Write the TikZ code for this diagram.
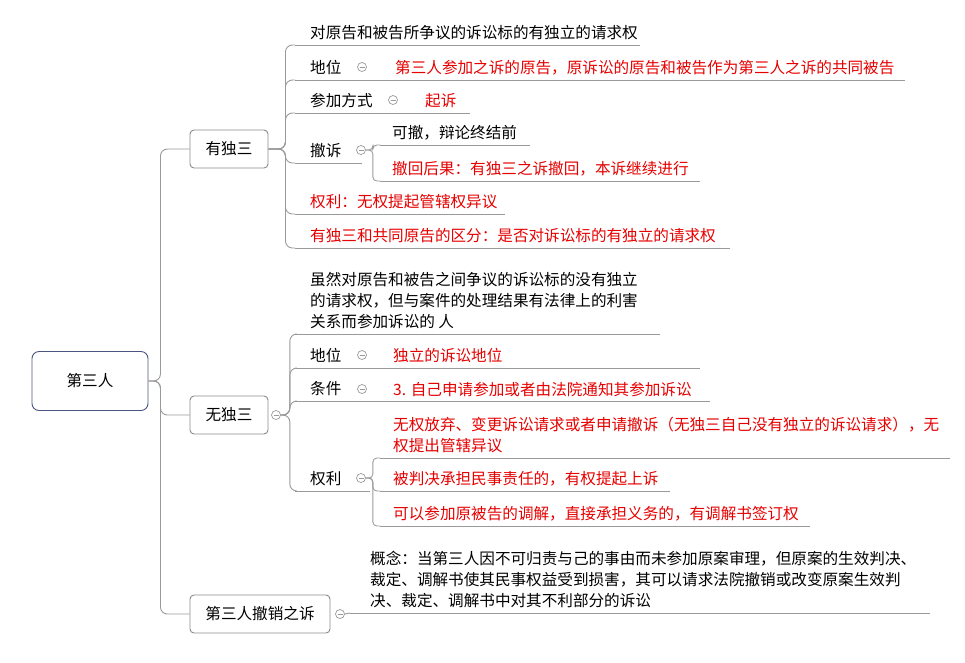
\documentclass[tikz,border=0pt]{standalone}
\usepackage{fontspec}
\newfontfamily\cjk{Noto Sans CJK SC}
\definecolor{linegray}{HTML}{9A9A9A}
\definecolor{boxgray}{HTML}{8A8A8A}
\definecolor{rootblue}{HTML}{4A5580}
\definecolor{leafred}{HTML}{E60000}
\newcommand{\leaf}[6]{% name, x0, x1, y, text x, text
  \coordinate (#1) at (#2,#4);
  \draw[uline] (#1) -- (#3,#4);
  \node[txt, anchor=base west] (#1t) at (#5,#4-7) {#6};}
\begin{document}
\begin{tikzpicture}[
        x = 1pt, y = -1pt,
        conn/.style = {draw = linegray, line width = 0.9pt, rounded corners = 7pt},
        uline/.style = {draw = linegray, line width = 0.9pt},
        txt/.style = {font = \cjk\fontsize{15.6}{21}\selectfont, inner sep = 0pt, align = left},
        red/.style = {txt, text = leafred},
        topic/.style = {draw = boxgray, line width = 0.9pt, rounded corners = 4pt,
                        font = \cjk\fontsize{15.6}{18}\selectfont, inner sep = 0pt},
        minus/.style = {circle, draw = linegray, line width = 0.7pt, inner sep = 0pt,
                        minimum size = 9pt, fill = white,
                        path picture = {\draw[linegray] (-2.5pt,0) -- (2.5pt,0);}}
      ]
      \useasboundingbox (0,0) rectangle (965,662);
      % root and main topics
      \node[topic, draw = rootblue, minimum width = 116pt, minimum height = 59pt,
            rounded corners = 7pt] (root) at (90,381) {第三人};
      \node[topic, minimum width = 78pt, minimum height = 38pt] (yd) at (229,149) {有独三};
      \node[topic, minimum width = 78pt, minimum height = 38pt] (wd) at (229,415) {无独三};
      \node[topic, minimum width = 140pt, minimum height = 38pt] (cx) at (260,614) {第三人撤销之诉};
      \draw[conn] (root.east) -- ++(12,0) |- (yd.west);
      \draw[conn] (root.east) -- ++(12,0) |- (wd.west);
      \draw[conn] (root.east) -- ++(12,0) |- (cx.west);
      % 有独三
      \leaf{ya}{295}{640}{45}{310}{对原告和被告所争议的诉讼标的有独立的请求权}
      \leaf{yb}{295}{905}{80}{310}{地位}
      \node[minus] (ybm) at (362,67) {};
      \node[red, anchor = base west] (ybr) at (395,73) {第三人参加之诉的原告，原诉讼的原告和被告作为第三人之诉的共同被告};
      \leaf{yc}{295}{470}{113}{310}{参加方式}
      \node[minus] (ycm) at (393,100) {};
      \node[red, anchor = base west] (ycr) at (425,106) {起诉};
      \leaf{yd1}{295}{362}{163}{310}{撤诉}
      \node[minus] (ydm) at (361,150) {};
      \leaf{yd2}{380}{530}{145}{392}{可撤，辩论终结前}
      \leaf{yd3}{380}{700}{181}{392}{\color{leafred}撤回后果：有独三之诉撤回，本诉继续进行}
      \leaf{ye}{295}{505}{214}{310}{\color{leafred}权利：无权提起管辖权异议}
      \leaf{yf}{295}{730}{248}{310}{\color{leafred}有独三和共同原告的区分：是否对诉讼标的有独立的请求权}
      \foreach \n in {ya, yb, yc, yd1, ye, yf}
        \draw[conn] (yd.east) -- ++(17,0) |- (\n);
      \draw[conn, rounded corners = 4pt] (ydm.east) -- ++(7,0) |- (yd2);
      \draw[conn, rounded corners = 4pt] (ydm.east) -- ++(7,0) |- (yd3);
      % 无独三
      \node[minus] (wdm) at (276,415) {};
      \leaf{wa}{295}{660}{334}{310}{虽然对原告和被告之间争议的诉讼标的没有独立\\的请求权，但与案件的处理结果有法律上的利害\\关系而参加诉讼的 人}
      \leaf{wb}{295}{700}{368}{310}{地位}
      \node[minus] (wbm) at (362,355) {};
      \node[red, anchor = base west] (wbr) at (393,361) {独立的诉讼地位};
      \leaf{wc}{295}{710}{401}{310}{条件}
      \node[minus] (wcm) at (362,389) {};
      \node[red, anchor = base west] (wcr) at (393,395) {3. 自己申请参加或者由法院通知其参加诉讼};
      \leaf{wd1}{295}{370}{491}{310}{权利}
      \node[minus] (wdm2) at (361,478) {};
      \leaf{wd2}{380}{950}{458}{393}{\color{leafred}无权放弃、变更诉讼请求或者申请撤诉（无独三自己没有独立的诉讼请求），无\\\color{leafred}权提出管辖异议}
      \leaf{wd3}{380}{670}{491}{393}{\color{leafred}被判决承担民事责任的，有权提起上诉}
      \leaf{wd4}{380}{810}{526}{393}{\color{leafred}可以参加原被告的调解，直接承担义务的，有调解书签订权}
      \foreach \n in {wa, wb, wc, wd1}
        \draw[conn] (wdm.east) -- ++(9,0) |- (\n);
      \foreach \n in {wd2, wd3, wd4}
        \draw[conn, rounded corners = 4pt] (wdm2.east) -- ++(7,0) |- (\n);
      % 第三人撤销之诉
      \node[minus] (cxm) at (340,614) {};
      \leaf{ca}{350}{930}{613}{370}{概念：当第三人因不可归责与己的事由而未参加原案审理，但原案的生效判决、\\裁定、调解书使其民事权益受到损害，其可以请求法院撤销或改变原案生效判\\决、裁定、调解书中对其不利部分的诉讼}
      \draw[conn] (cxm.east) -- (ca);
    \end{tikzpicture}
\end{document}
